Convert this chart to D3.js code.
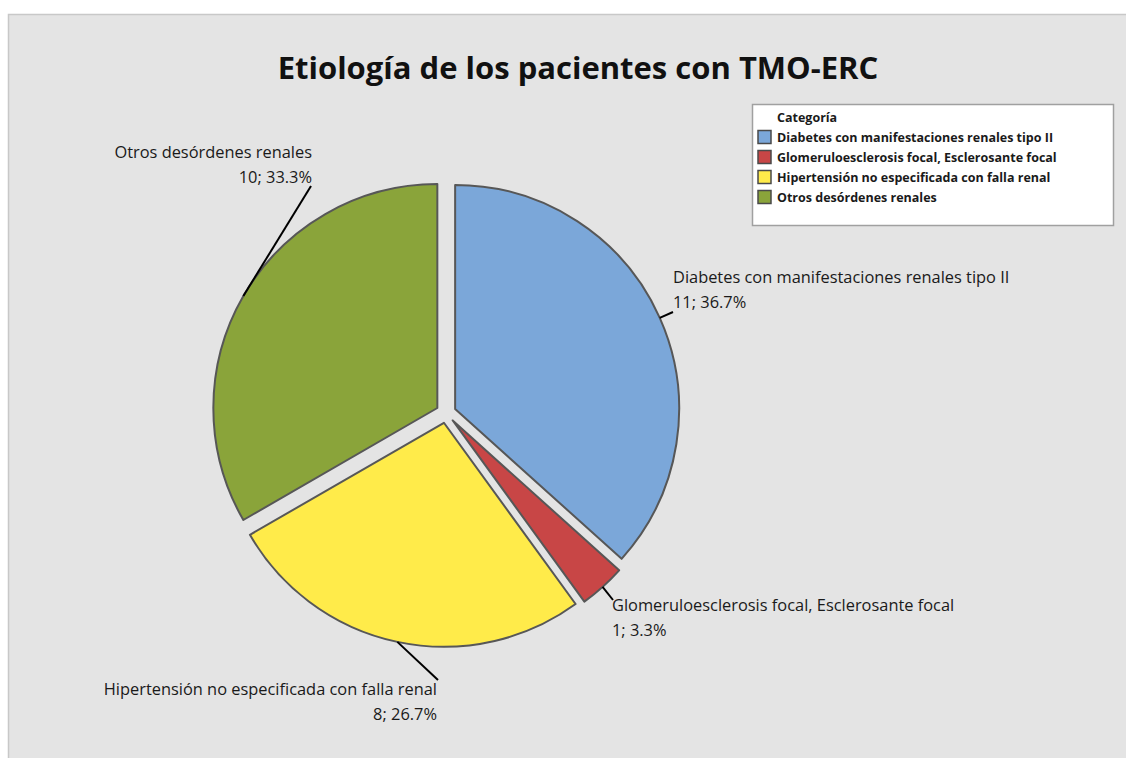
<!DOCTYPE html>
<html><head><meta charset="utf-8">
<script src="https://cdn.jsdelivr.net/npm/d3@7"></script>
<style>
html,body{margin:0;padding:0;background:#fff;}
svg{display:block;}
text{font-family:"Open Sans","Noto Sans",sans-serif;}
</style></head>
<body>
<svg id="chart" width="1126" height="758"></svg>
<script>
const chartTitle = "Etiología de los pacientes con TMO-ERC";
const legendTitle = "Categoría";
const categories = [
  "Diabetes con manifestaciones renales tipo II",
  "Glomeruloesclerosis focal, Esclerosante focal",
  "Hipertensión no especificada con falla renal",
  "Otros desórdenes renales"
];
const counts = [11, 1, 8, 10];
const colors = ["#7ba7d9", "#c84646", "#ffeb4a", "#8aa43a"];

const svg = d3.select("#chart");

// background panel
svg.append("rect").attr("x", 8.5).attr("y", 14.5).attr("width", 1130).attr("height", 760)
  .attr("fill", "#e4e4e4").attr("stroke", "#c8c8c8").attr("stroke-width", 1.5);

svg.append("text").attr("x", 578).attr("y", 79).attr("text-anchor", "middle")
  .attr("font-size", 31).attr("font-weight", "bold").attr("fill", "#111").text(chartTitle);

const total = d3.sum(counts);
const cx = 446, cy = 413, R = 224, explode = 10;
const pie = d3.pie().sort(null).value(d => d)(counts);
const arc = d3.arc().innerRadius(0).outerRadius(R);

const g = svg.append("g").attr("transform", `translate(${cx},${cy})`);
pie.forEach((p, i) => {
  const mid = (p.startAngle + p.endAngle) / 2;
  const dx = Math.sin(mid) * explode, dy = -Math.cos(mid) * explode;
  g.append("path").attr("d", arc(p)).attr("transform", `translate(${dx},${dy})`)
    .attr("fill", colors[i]).attr("stroke", "#575757").attr("stroke-width", 2)
    .attr("stroke-linejoin", "round");
});

// label layout: anchor point (end of leader) and text placement
const labelLayout = [
  {ax: 673, ay: 312, tx: 673, ty: 283, anchor: "start"},
  {ax: 613, ay: 600, tx: 612, ty: 611, anchor: "start"},
  {ax: 438, ay: 680, tx: 437, ty: 695, anchor: "end"},
  {ax: 311, ay: 186, tx: 312, ty: 158, anchor: "end"}
];
pie.forEach((p, i) => {
  const mid = (p.startAngle + p.endAngle) / 2;
  const r0 = R + explode;
  const sx = cx + Math.sin(mid) * r0, sy = cy - Math.cos(mid) * r0;
  const L = labelLayout[i];
  svg.append("line").attr("x1", sx).attr("y1", sy).attr("x2", L.ax).attr("y2", L.ay)
    .attr("stroke", "#000").attr("stroke-width", 2);
  const pct = d3.format(".1f")(counts[i] / total * 100);
  const t = svg.append("text").attr("x", L.tx).attr("y", L.ty).attr("text-anchor", L.anchor)
    .attr("font-size", 16.4).attr("fill", "#1a1a1a");
  t.append("tspan").attr("x", L.tx).text(categories[i]);
  t.append("tspan").attr("x", L.tx).attr("dy", 25).text(`${counts[i]}; ${pct}%`);
});

// legend
const lg = svg.append("g");
lg.append("rect").attr("x", 752.5).attr("y", 104.5).attr("width", 361).attr("height", 121)
  .attr("fill", "#fff").attr("stroke", "#a0a0a0").attr("stroke-width", 1.5);
lg.append("text").attr("x", 777).attr("y", 121.5).attr("font-size", 12.5).attr("font-weight", "bold")
  .attr("fill", "#1a1a1a").text(legendTitle);
categories.forEach((c, i) => {
  const y = 137 + i * 20;
  lg.append("rect").attr("x", 758).attr("y", y - 6.5).attr("width", 13).attr("height", 13)
    .attr("fill", colors[i]).attr("stroke", "#4a4a4a").attr("stroke-width", 1.5);
  lg.append("text").attr("x", 777).attr("y", y + 4.5).attr("font-size", 12.5).attr("font-weight", "bold")
    .attr("fill", "#1a1a1a").text(c);
});
</script>
</body></html>
